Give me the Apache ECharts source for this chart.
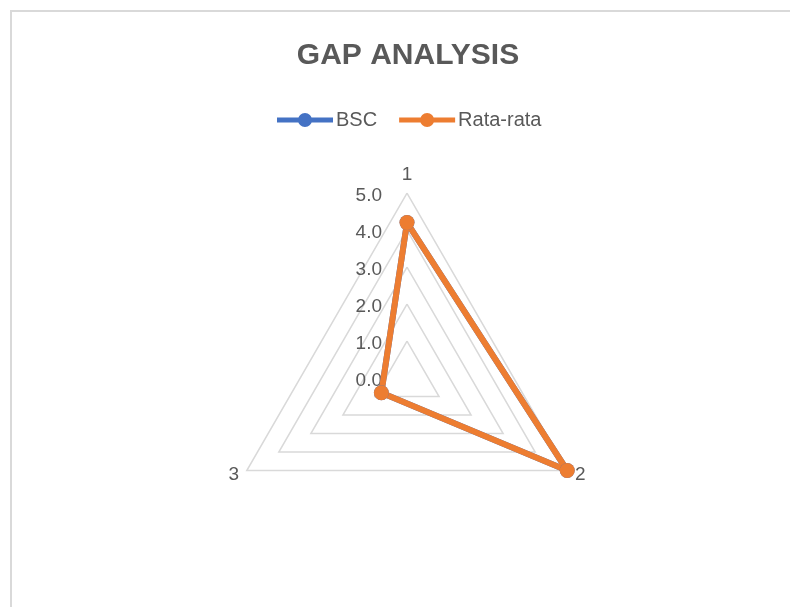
<!DOCTYPE html>
<html>
<head>
<meta charset="utf-8">
<style>
  html, body { margin: 0; padding: 0; background: #ffffff; }
  #frame {
    position: absolute; left: 10px; top: 10px; width: 800px; height: 620px;
    border-left: 2px solid #D9D9D9; border-top: 2px solid #D9D9D9;
  }
  #chart { position: absolute; left: 0; top: 0; width: 790px; height: 607px; }
</style>
<script src="https://cdn.jsdelivr.net/npm/echarts@6/dist/echarts.min.js"></script>
</head>
<body>
<div id="frame"></div>
<div id="chart"></div>
<script>
// Radar axes (indicators) and the scale shared by all of them
const categories = ['1', '2', '3'];
const axisMin = 0;
const axisMax = 5;
const axisStep = 1;

// Series values, one per indicator, in category order
const seriesNames = ['BSC', 'Rata-rata'];
const bscValues = [4.2, 5.0, 0.8];
const rataRataValues = [4.2, 5.0, 0.8];

const seriesColors = ['#4472C4', '#ED7D31'];
const textColor = '#595959';
const baseFont = "'Liberation Sans', Arial, sans-serif";

// ECharts lays radar axes out counter-clockwise from the top; the axes
// run clockwise here, so keep the first one and reverse the rest.
const axisOrder = [0].concat(categories.slice(1).map((_, i) => categories.length - 1 - i));
const ordered = arr => axisOrder.map(i => arr[i]);

// Line with a round marker in the middle, used as the legend key
const legendIcon = 'path://M0,4.5 H56 V9.5 H0 Z M21,7 a7,7 0 1,1 14,0 a7,7 0 1,1 -14,0 Z';

const chart = echarts.init(document.getElementById('chart'), null, { renderer: 'canvas' });

const indicators = ordered(categories).map((name, i) => ({
  name: name,
  min: axisMin,
  max: axisMax,
  // value labels only along the vertical axis
  axisLabel: { show: i === 0 }
}));

function makeSeries(name, values, color) {
  return {
    name: name,
    type: 'radar',
    symbol: 'circle',
    symbolSize: 15,
    lineStyle: { width: 6, color: color },
    itemStyle: { color: color },
    data: [{ value: ordered(values), name: name }]
  };
}

chart.setOption({
  animation: false,
  backgroundColor: 'transparent',
  title: {
    text: 'GAP ANALYSIS',
    left: 403,
    textAlign: 'center',
    top: 36,
    textStyle: {
      fontFamily: baseFont,
      fontWeight: 'bold',
      fontSize: 30,
      color: textColor
    }
  },
  legend: {
    top: 105,
    left: 272,
    itemWidth: 56,
    itemHeight: 14,
    itemGap: 22,
    textStyle: { fontFamily: baseFont, fontSize: 20, color: textColor, padding: [0, 0, 0, -2] },
    data: seriesNames.map(n => ({ name: n, icon: legendIcon }))
  },
  radar: {
    center: [407, 378],
    radius: 185,
    startAngle: 90,
    shape: 'polygon',
    splitNumber: (axisMax - axisMin) / axisStep,
    indicator: indicators,
    axisName: {
      color: textColor,
      fontFamily: baseFont,
      fontSize: 19
    },
    nameGap: 9,
    axisLine: { show: false },
    axisTick: { show: false },
    axisLabel: {
      show: false,
      margin: 25,
      verticalAlign: 'top',
      lineHeight: 5,
      color: textColor,
      fontFamily: baseFont,
      fontSize: 19,
      formatter: v => Number(v).toFixed(1)
    },
    splitLine: { lineStyle: { color: '#D9D9D9', width: 1.5 } },
    splitArea: { show: false }
  },
  series: [
    makeSeries(seriesNames[0], bscValues, seriesColors[0]),
    makeSeries(seriesNames[1], rataRataValues, seriesColors[1])
  ]
});
</script>
</body>
</html>
